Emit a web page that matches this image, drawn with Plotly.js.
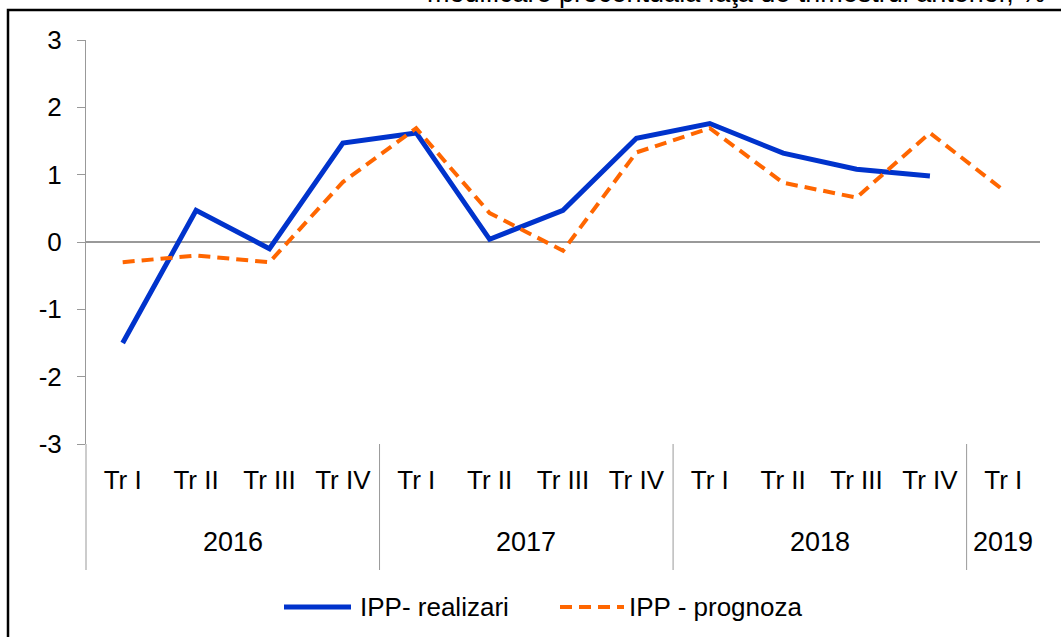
<!DOCTYPE html>
<html>
<head>
<meta charset="utf-8">
<script src="https://cdn.plot.ly/plotly-3.0.1.min.js"></script>
<style>
html,body{margin:0;padding:0;background:#fff;}
#chart{width:1061px;height:637px;}
</style>
</head>
<body>
<div id="chart"></div>
<script>
// Data
const quarters = ["Tr I","Tr II","Tr III","Tr IV","Tr I","Tr II","Tr III","Tr IV","Tr I","Tr II","Tr III","Tr IV","Tr I"];
const years = ["2016","2017","2018","2019"];
const yearSizes = [4,4,4,1];
const realizari = [-1.5,0.47,-0.1,1.47,1.62,0.04,0.47,1.54,1.76,1.32,1.08,0.98,null];
const prognoza = [-0.3,-0.2,-0.3,0.89,1.69,0.43,-0.13,1.33,1.69,0.88,0.66,1.62,0.77];
const seriesNames = ["IPP- realizari","IPP - prognoza"];
const yTickVals = [-3,-2,-1,0,1,2,3];
const yTickText = ["-3","-2","-1","0","1","2","3"];
const titleText = "modificare procentuala faţa de trimestrul anterior, %";

const idx = quarters.map((q,i)=>i);
const FONT = "Liberation Sans, Arial, sans-serif";
const BLUE = '#0033CC', ORANGE = '#FF6600';

// pixel -> paper helpers (plot area: x 86..1040, y 40..444)
const PL = 86, PW = 954, PB = 444, PH = 404;
const px = v => (v-PL)/PW;
const py = v => (PB-v)/PH;

const traces = [
  {x: idx, y: realizari, type:'scatter', mode:'lines', name: seriesNames[0],
   line:{color:BLUE, width:5}, connectgaps:false, showlegend:false},
  {x: idx, y: prognoza, type:'scatter', mode:'lines', name: seriesNames[1],
   line:{color:ORANGE, width:4, dash:'12px,7px'}, showlegend:false}
];

const annotations = [];
const shapes = [];
let start = 0;
years.forEach((yr,k)=>{
  const n = yearSizes[k];
  annotations.push({x:start+(n-1)/2, xref:'x', y:py(542), yref:'paper', text:yr,
    showarrow:false, xanchor:'center', yanchor:'middle', font:{family:FONT,size:27,color:'#000'}});
  if (k>0) {
    shapes.push({type:'line', xref:'x', yref:'paper', x0:start-0.5, x1:start-0.5, y0:0, y1:py(570),
      line:{color:'#999999', width:1}});
  }
  start += n;
});
shapes.push({type:'line', xref:'paper', yref:'paper', x0:0, x1:0, y0:0, y1:py(570),
  line:{color:'#999999', width:1}});
// outer frame
shapes.push({type:'rect', xref:'paper', yref:'paper',
  x0:px(8), x1:px(1066), y0:py(10), y1:py(660),
  line:{color:'#000', width:2.5}, fillcolor:'rgba(0,0,0,0)'});

// legend (drawn manually)
const legY = py(607);
shapes.push({type:'line', xref:'paper', yref:'paper', x0:px(284), x1:px(351), y0:legY, y1:legY,
  line:{color:BLUE, width:5}});
shapes.push({type:'line', xref:'paper', yref:'paper', x0:px(560), x1:px(624), y0:legY, y1:legY,
  line:{color:ORANGE, width:4, dash:'12px,7px'}});
annotations.push({x:px(358), xref:'paper', y:legY, yref:'paper', text:seriesNames[0], showarrow:false,
  xanchor:'left', yanchor:'middle', font:{family:FONT,size:26,color:'#000'}});
annotations.push({x:px(627), xref:'paper', y:legY, yref:'paper', text:seriesNames[1], showarrow:false,
  xanchor:'left', yanchor:'middle', font:{family:FONT,size:26,color:'#000'}});
// title (clipped at the top edge, as in the source)
annotations.push({x:px(1047), xref:'paper', y:py(10), yref:'paper', text:titleText, showarrow:false,
  xanchor:'right', yanchor:'bottom', font:{family:FONT,size:27,color:'#000'}});

const layout = {
  width:1061, height:637,
  margin:{l:86, r:21, t:40, b:193},
  paper_bgcolor:'#fff', plot_bgcolor:'#fff',
  font:{family:FONT, color:'#000'},
  showlegend:false,
  xaxis:{type:'linear', range:[-0.5,12.5], tickmode:'array', tickvals:idx, ticktext:quarters,
    showgrid:false, zeroline:false, showline:false, ticks:'',
    tickfont:{family:FONT,size:26,color:'#000'}, ticklabelstandoff:18, fixedrange:true},
  yaxis:{range:[-3,3], tickmode:'array', tickvals:yTickVals, ticktext:yTickText,
    showgrid:false, zeroline:true, zerolinecolor:'#999999', zerolinewidth:1.5,
    showline:true, linecolor:'#999999', linewidth:1, ticks:'outside', ticklen:8, tickcolor:'#999999',
    tickfont:{family:FONT,size:26,color:'#000'}, ticklabelstandoff:10, fixedrange:true},
  shapes:shapes,
  annotations:annotations
};

Plotly.newPlot('chart', traces, layout, {displayModeBar:false, staticPlot:true});
</script>
</body>
</html>
